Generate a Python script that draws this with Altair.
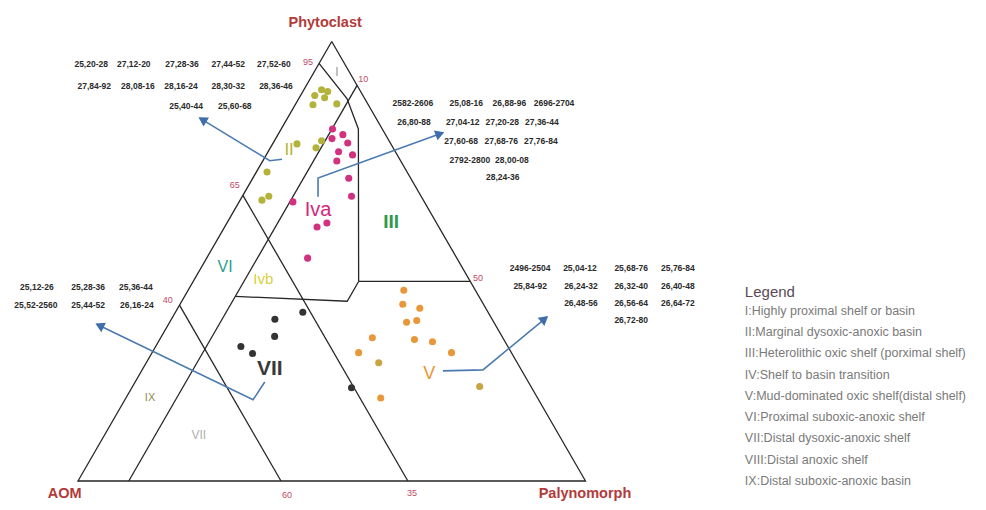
import altair as alt
import numpy as np
import pandas as pd

S3 = np.sqrt(3) / 2

# ---------------- data: ternary compositions (% Phytoclast, % Palynomorph; AOM = rest)
ii_phyto  = [87.7, 89.0, 88.6, 85.6, 85.8, 87.2, 77.4, 75.8, 76.7, 70.3, 63.9, 64.8]
ii_palyno = [2.8, 3.5, 4.9, 3.5, 8.1, 5.0, 9.3, 9.0, 4.8, 2.1, 4.3, 5.2]

iva_phyto  = [80.1, 78.8, 77.9, 76.9, 74.9, 74.2, 72.8, 68.9, 64.8, 63.5, 58.7, 57.8, 50.7]
iva_palyno = [10.1, 12.8, 11.1, 14.7, 13.9, 17.0, 14.6, 18.9, 21.5, 10.6, 19.7, 18.2, 19.9]

vii_phyto  = [36.8, 38.4, 32.9, 30.6, 29.0, 21.2]
vii_palyno = [20.4, 25.1, 22.3, 16.8, 19.9, 43.3]

v_phyto  = [43.4, 40.2, 39.3, 36.1, 36.5, 32.6, 32.2, 31.7, 29.2, 29.2, 18.9]
v_palyno = [42.5, 43.9, 47.7, 46.7, 48.5, 41.7, 50.2, 54.0, 40.7, 59.0, 50.2]

v2_phyto  = [26.9, 21.5]
v2_palyno = [45.8, 68.4]

# field boundaries (phyto, palyno) polylines
boundaries = {
    "outline": [(100, 0), (0, 0), (0, 100), (100, 0)],
    "palyno10": [(90, 10), (0, 10)],
    "aom35": [(65, 0), (0, 65)],
    "aom60": [(40, 0), (0, 40)],
    "fieldI": [(95, 0), (87, 9.5), (80.1, 15.2), (45.4, 32.6)],
    "shelf50": [(45.4, 32.6), (45.4, 54.6)],
    "ivbase": [(45.4, 32.6), (40.9, 32.6), (42, 10)],
}

# leader lines in plot units (X, Y), last point is the arrow tip
leaders = {
    "II": [(40.2, 63.4), (37.8, 63.1), (24.0, 71.5)],
    "IVa": [(47.3, 56.0), (47.3, 59.7), (71.9, 68.6)],
    "VII": [(36.8, 19.5), (34.5, 16.0), (3.7, 30.9)],
    "V": [(71.9, 21.7), (79.8, 21.9), (92.4, 32.3)],
}

# sample-interval labels
tl_labels = ["25,20-28", "27,12-20", "27,28-36", "27,44-52", "27,52-60",
             "27,84-92", "28,08-16", "28,16-24", "28,30-32", "28,36-46",
             "25,40-44", "25,60-68"]
tl_x = [2.6, 11.0, 20.5, 29.6, 38.6, 3.2, 11.8, 20.3, 29.6, 39.0, 21.3, 30.9]
tl_y = [82.2] * 5 + [77.8] * 5 + [73.9] * 2

tr_labels = ["2582-2606", "25,08-16", "26,88-96", "2696-2704",
             "26,80-88", "27,04-12", "27,20-28", "27,36-44",
             "27,60-68", "27,68-76", "27,76-84",
             "2792-2800", "28,00-08", "28,24-36"]
tr_x = [66.0, 76.5, 85.0, 93.8, 66.2, 75.8, 83.6, 91.4, 75.5, 83.4, 91.2, 77.2, 85.5, 83.7]
tr_y = [74.5] * 4 + [70.7] * 4 + [67.0] * 3 + [63.3] * 2 + [59.9]

ml_labels = ["25,12-26", "25,28-36", "25,36-44", "25,52-2560", "25,44-52", "26,16-24"]
ml_x = [-8.1, 2.0, 11.4, -8.3, 2.0, 11.6]
ml_y = [38.2] * 3 + [34.7] * 3

br_labels = ["2496-2504", "25,04-12", "25,68-76", "25,76-84",
             "25,84-92", "26,24-32", "26,32-40", "26,40-48",
             "26,48-56", "26,56-64", "26,64-72", "26,72-80"]
br_x = [89.1, 98.9, 109.0, 118.2, 89.1, 99.1, 109.0, 118.2, 99.1, 109.0, 118.2, 109.0]
br_y = [42.0] * 4 + [38.4] * 4 + [35.1] * 3 + [31.7]

axis_titles = ["Phytoclast", "AOM", "Palynomorph"]
axis_x = [48.7, -2.6, 99.9]
axis_y = [90.2, -2.6, -2.6]

tick_labels = ["95", "10", "65", "40", "50", "60", "35"]
tick_x = [45.3, 56.2, 30.9, 17.7, 78.8, 41.2, 65.8]
tick_y = [82.6, 79.2, 58.3, 35.7, 40.0, -2.8, -2.4]

region_labels = ["I", "II", "Iva", "VI", "Ivb", "V", "IX", "VII"]
region_x = [51.0, 41.6, 47.3, 29.0, 36.5, 69.2, 14.2, 23.8]
region_y = [80.6, 65.2, 53.4, 42.2, 39.8, 21.1, 16.4, 9.1]
region_col = ["#9a9a9a", "#b5b535", "#d0287e", "#2aa08f", "#d8d03a", "#e8952e", "#8c8c50", "#b0b0b0"]
region_fs = [12, 17, 20, 16, 15, 18, 11, 12]

bold_labels = ["III", "VII"]
bold_x = [61.7, 37.8]
bold_y = [51.0, 22.1]
bold_col = ["#2e9a4a", "#3a3a3a"]
bold_fs = [19, 21]

legend_title = "Legend"
legend_items = ["I:Highly proximal shelf or basin",
                "II:Marginal dysoxic-anoxic basin",
                "III:Heterolithic oxic shelf (porximal shelf)",
                "IV:Shelf to basin transition",
                "V:Mud-dominated oxic shelf(distal shelf)",
                "VI:Proximal suboxic-anoxic shelf",
                "VII:Distal dysoxic-anoxic shelf",
                "VIII:Distal anoxic shelf",
                "IX:Distal suboxic-anoxic basin"]
legend_x = 131.4
legend_title_y = 37.2
legend_y = [33.5, 29.4, 25.2, 20.9, 16.7, 12.6, 8.5, 4.1, 0.0]

# ---------------- build tables
def tern(phyto, palyno):
    phyto = np.asarray(phyto, float)
    palyno = np.asarray(palyno, float)
    return palyno + phyto / 2, phyto * S3

pts = []
for grp, ph, pa in [("II", ii_phyto, ii_palyno), ("IVa", iva_phyto, iva_palyno),
                    ("VII", vii_phyto, vii_palyno), ("V", v_phyto, v_palyno),
                    ("V2", v2_phyto, v2_palyno)]:
    X, Y = tern(ph, pa)
    for a, b in zip(X, Y):
        pts.append({"X": a, "Y": b, "grp": grp})
pts = pd.DataFrame(pts)

brows = []
for name, poly in boundaries.items():
    ph, pa = zip(*poly)
    X, Y = tern(ph, pa)
    for i, (a, b) in enumerate(zip(X, Y)):
        brows.append({"X": a, "Y": b, "seg": name, "o": i})
bdf = pd.DataFrame(brows)

lrows, arows = [], []
for name, poly in leaders.items():
    for i, (a, b) in enumerate(poly):
        lrows.append({"X": a, "Y": b, "seg": name, "o": i})
    (x0, y0), (x1, y1) = poly[-2], poly[-1]
    ang = np.degrees(np.arctan2(x1 - x0, y1 - y0)) % 360
    d = np.hypot(x1 - x0, y1 - y0)
    arows.append({"X": x1 - 0.9 * (x1 - x0) / d, "Y": y1 - 0.9 * (y1 - y0) / d, "ang": ang})
ldf = pd.DataFrame(lrows)
adf = pd.DataFrame(arows)

samples = pd.DataFrame({
    "X": tl_x + tr_x + ml_x + br_x,
    "Y": tl_y + tr_y + ml_y + br_y,
    "t": tl_labels + tr_labels + ml_labels + br_labels,
})
axdf = pd.DataFrame({"X": axis_x, "Y": axis_y, "t": axis_titles})
tkdf = pd.DataFrame({"X": tick_x, "Y": tick_y, "t": tick_labels})
rgdf = pd.DataFrame({"X": region_x, "Y": region_y, "t": region_labels, "c": region_col, "fs": region_fs})
bddf = pd.DataFrame({"X": bold_x, "Y": bold_y, "t": bold_labels, "c": bold_col, "fs": bold_fs})
lgdf = pd.DataFrame({"X": [legend_x] * len(legend_items), "Y": legend_y, "t": legend_items})
lgtdf = pd.DataFrame({"X": [legend_x], "Y": [legend_title_y], "t": [legend_title]})

xs = alt.Scale(domain=[-13.79, 177.34], nice=False, zero=False)
ys = alt.Scale(domain=[-4.14, 93.20], nice=False, zero=False)

def XY():
    return dict(x=alt.X("X:Q", scale=xs, axis=None), y=alt.Y("Y:Q", scale=ys, axis=None))

lines = alt.Chart(bdf).mark_line(color="#262626", strokeWidth=1.3).encode(
    **XY(), detail="seg:N", order="o:Q")
leadl = alt.Chart(ldf).mark_line(color="#4a7ab0", strokeWidth=1.6).encode(
    **XY(), detail="seg:N", order="o:Q")
heads = alt.Chart(adf).mark_point(shape="triangle", filled=True, size=110, color="#3f6fa6", opacity=1).encode(
    **XY(), angle=alt.Angle("ang:Q", scale=None))
points = alt.Chart(pts).mark_circle(size=50, opacity=1).encode(
    **XY(),
    color=alt.Color("grp:N", scale=alt.Scale(domain=["II", "IVa", "VII", "V", "V2"],
                                            range=["#b3b23a", "#d2317f", "#333333", "#e8973a", "#c9a443"]),
                    legend=None))
samp = alt.Chart(samples).mark_text(font="Liberation Sans", fontWeight="bold", fontSize=8.5,
                                     color="#2a2a2a", align="center", baseline="middle").encode(**XY(), text="t:N")
axt = alt.Chart(axdf).mark_text(font="Liberation Sans", fontWeight="bold", fontSize=14.5,
                                color="#b23a3a", align="center", baseline="middle").encode(**XY(), text="t:N")
tk = alt.Chart(tkdf).mark_text(font="Liberation Sans", fontSize=9, color="#c24a66",
                               align="center", baseline="middle").encode(**XY(), text="t:N")
rg = alt.Chart(rgdf).mark_text(font="Liberation Sans", align="center", baseline="middle").encode(
    **XY(), text="t:N", color=alt.Color("c:N", scale=None), size=alt.Size("fs:Q", scale=None))
bd = alt.Chart(bddf).mark_text(font="Liberation Sans", fontWeight="bold", align="center", baseline="middle").encode(
    **XY(), text="t:N", color=alt.Color("c:N", scale=None), size=alt.Size("fs:Q", scale=None))
lgt = alt.Chart(lgtdf).mark_text(font="Liberation Sans", fontSize=15, color="#5a4a55",
                                 align="left", baseline="middle").encode(**XY(), text="t:N")
lg = alt.Chart(lgdf).mark_text(font="Liberation Sans", fontSize=12.5, color="#7a7a7a",
                               align="left", baseline="middle").encode(**XY(), text="t:N")

chart = alt.layer(lines, leadl, heads, points, samp, axt, tk, rg, bd, lgt, lg).properties(
    width=970, height=494, padding=0,
    autosize=alt.AutoSizeParams(type="none"),
    background="white",
).configure_view(stroke=None)

chart.save("out.html", embed_options={"renderer": "svg", "actions": False})
